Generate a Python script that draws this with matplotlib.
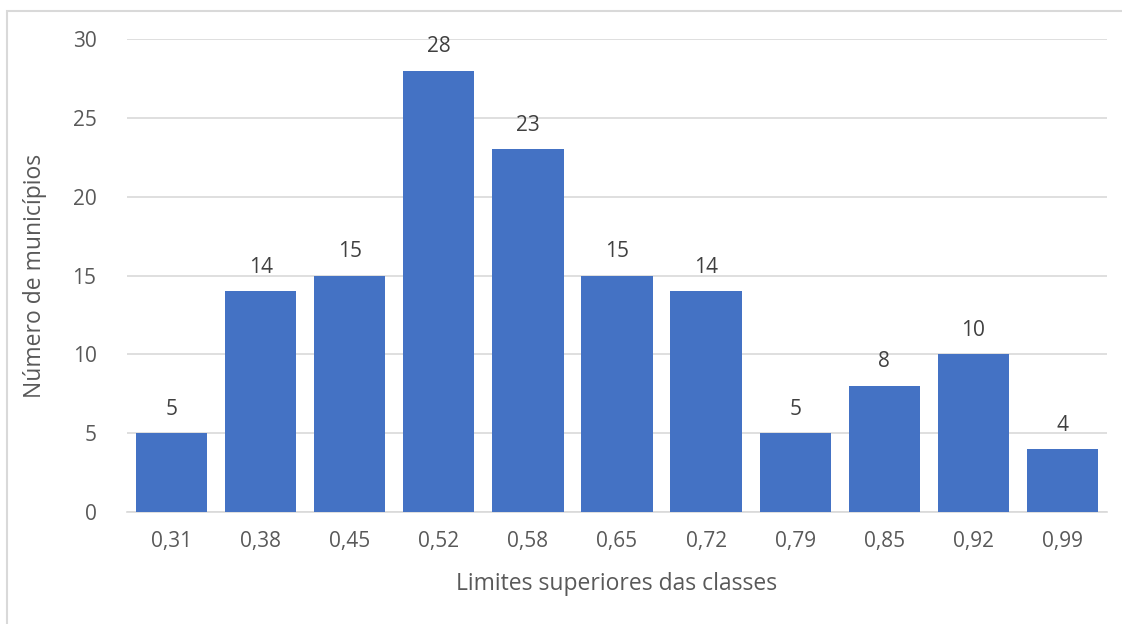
import matplotlib
matplotlib.use("Agg")
import matplotlib.pyplot as plt
from matplotlib.patches import Rectangle

plt.rcParams['font.family'] = ['Open Sans', 'DejaVu Sans']

# limites superiores das classes e número de municípios
categories = ['0,31', '0,38', '0,45', '0,52', '0,58', '0,65', '0,72', '0,79', '0,85', '0,92', '0,99']
counts = [5, 14, 15, 28, 23, 15, 14, 5, 8, 10, 4]
yticks = [0, 5, 10, 15, 20, 25, 30]

text_color = '#595959'
bar_color = '#4472C4'
grid_color = '#d9d9d9'

fig = plt.figure(figsize=(11.22, 6.24), dpi=100)
ax = fig.add_axes([127 / 1122, 1 - 512 / 624, 980 / 1122, 473 / 624])

# chart border
fig.patches.append(Rectangle((7 / 1122, -0.1), 1.2, 1 - 11 / 624 + 0.1,
                             transform=fig.transFigure, fill=False,
                             edgecolor='#d9d9d9', linewidth=1.5))

x = range(len(categories))
bars = ax.bar(x, counts, width=0.8, color=bar_color, zorder=3)
for b, v in zip(bars, counts):
    ax.text(b.get_x() + b.get_width() / 2, v + 0.85, str(v), ha='center', va='bottom',
            fontsize=15, color='#404040')

ax.set_xlim(-0.5, len(categories) - 0.5)
ax.set_ylim(0, 30)
ax.set_yticks(yticks)
ax.set_xticks(list(x))
ax.set_xticklabels(categories)
ax.yaxis.grid(True, color=grid_color, linewidth=1.2, zorder=0)
for s in ['top', 'right', 'left']:
    ax.spines[s].set_visible(False)
ax.spines['bottom'].set_color(grid_color)
ax.spines['bottom'].set_linewidth(1.2)
ax.tick_params(axis='both', length=0, labelsize=15, colors=text_color)
ax.tick_params(axis='y', pad=22)
ax.tick_params(axis='x', pad=14)

ax.set_xlabel('Limites superiores das classes', fontsize=16.5, color=text_color, labelpad=14)
ax.set_ylabel('Número de municípios', fontsize=16.5, color=text_color, labelpad=18)

fig.savefig('out.png', dpi=100)
